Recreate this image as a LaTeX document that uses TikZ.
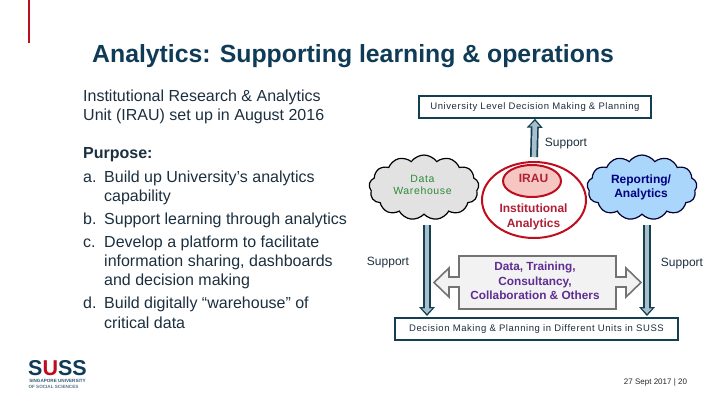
\documentclass[tikz,border=0pt]{standalone}
\usepackage{fontspec}
\setmainfont{Liberation Sans}
\newfontfamily\spacedfont[LetterSpace=6]{Liberation Sans}
\usetikzlibrary{arrows.meta,shapes.geometric,shapes.symbols}
\definecolor{titleblue}{HTML}{0F3B57}
\definecolor{bodyink}{HTML}{1C2F3E}
\definecolor{boxedge}{HTML}{123F52}
\definecolor{steelfill}{HTML}{A9BFCB}
\definecolor{suppred}{HTML}{C00D1E}
\definecolor{palered}{HTML}{F5C6C2}
\definecolor{cloudblue}{HTML}{A9D6FA}
\definecolor{cloudgrey}{HTML}{E2E2E2}
\definecolor{datagreen}{HTML}{2E8B3A}
\definecolor{irauink}{HTML}{B02035}
\definecolor{plum}{HTML}{5F2D91}
\tikzset{
  bodytext/.style={anchor=base west,font=\fontsize{16}{18}\selectfont,text=bodyink,inner sep=0pt},
  supporttext/.style={font=\fontsize{12}{14}\selectfont,text=bodyink,inner sep=0pt},
  levelbox/.style={draw=boxedge,line width=1.5pt,fill=white,inner sep=0pt,font=\spacedfont\fontsize{9.5}{12}\selectfont,text=bodyink},
  puffcloud/.style={cloud,cloud puffs=13,cloud puff arc=110,aspect=1.7,inner sep=0pt,minimum width=110,minimum height=65,line width=1.2pt},
  cloudtext/.style={align=center,inner sep=0pt},
  supportarrow/.style={draw=boxedge,line width=8pt,-{Triangle[length=9pt,width=15.5pt]},
    postaction={draw=steelfill,line width=4.6pt,-{Triangle[length=5.5pt,width=10pt]},shorten >=2.2pt}},
}
\begin{document}
\begin{tikzpicture}[x=1pt,y=-1pt]
  \useasboundingbox (0,0) rectangle (720,405);
  \fill[suppred] (27.8,0) rectangle (30.3,43);
  \node (title) at (92,62) [anchor=base west,inner sep=0pt,font=\bfseries\fontsize{24.8}{28}\selectfont,text=titleblue]{Analytics: Supporting learning \& operations};
  % left column
  \node (unit1) at (83,101) [bodytext]{Institutional Research \& Analytics};
  \node (unit2) at (83,120) [bodytext]{Unit (IRAU) set up in August 2016};
  \node (purpose) at (83,158.5) [bodytext,font=\bfseries\fontsize{16}{18}\selectfont]{Purpose:};
  \foreach \y/\m in {182/a.,224/b.,247/c.,308/d.}
  {
    \node (mark\m) at (83,\y) [bodytext]{\m};
  }
  \foreach \y/\t in {182/Build up University’s analytics,201/capability,224/Support learning through analytics,247/Develop a platform to facilitate,266/{information sharing, dashboards},285/and decision making,308/Build digitally “warehouse” of,328/critical data}
  {
    \node (line\y) at (104,\y) [bodytext]{\t};
  }
  % right side
  \node (unilevel) at (535,107) [levelbox,minimum width=232,minimum height=22]{University Level Decision Making \& Planning};
  \node (units) at (536.5,329) [levelbox,minimum width=283,minimum height=22]{Decision Making \& Planning in Different Units in SUSS};
  \node (warehouse) at (424,187.5) [puffcloud,draw=black,fill=cloudgrey]{};
  \node (warehousetext) at (422.5,185) [cloudtext,text=datagreen,font=\spacedfont\fontsize{10.5}{12}\selectfont]{Data\\Warehouse};
  \node (reporting) at (642,187.5) [puffcloud,draw=black!80!blue,fill=cloudblue]{};
  \node (reportingtext) at (641,187.5) [cloudtext,text=blue!50!black,font=\bfseries\fontsize{12}{14.5}\selectfont]{Reporting/\\Analytics};
  \node (institutional) at (534,200) [ellipse,draw=suppred,line width=2pt,fill=white,minimum width=104,minimum height=76,inner sep=0pt]{};
  \node (iraububble) at (532,181) [ellipse,draw=suppred,line width=2pt,fill=palered,minimum width=58,minimum height=32,inner sep=0pt]{};
  \node (irautext) at (533.5,178.5) [inner sep=0pt,font=\bfseries\fontsize{12}{14}\selectfont,text=irauink]{IRAU};
  \node (institutionaltext) at (533.5,216.5) [align=center,inner sep=0pt,font=\bfseries\fontsize{12}{15}\selectfont,text=irauink]{Institutional\\Analytics};
  \coordinate (warehousefoot) at (427,225);
  \coordinate (warehousetip) at (427,316);
  \coordinate (reportingfoot) at (647,225);
  \coordinate (reportingtip) at (647,316);
  \draw[supportarrow] (warehousefoot)--(warehousetip);
  \draw[supportarrow] (reportingfoot)--(reportingtip);
  \draw[supportarrow] (institutional.north)++(0,-4)--(unilevel.south);
  \node (support1) at (566,143.5) [supporttext]{Support};
  \node (support2) at (388,262.5) [supporttext]{Support};
  \node (support3) at (682,263.5) [supporttext]{Support};
  % data box with its two side arrows
  \draw[draw=black!55,fill=black!5,line width=1.6pt] (459,256)--(616,256)--(616,277)--(626,277)--(626,268)--(641,282.5)--(626,297)--(626,287)--(616,287)--(616,309)--(459,309)--(459,287)--(449,287)--(449,297)--(434,282.5)--(449,268)--(449,277)--(459,277)--cycle;
  \node (datatext) at (535,281) [align=center,inner sep=0pt,font=\bfseries\fontsize{11.8}{14.6}\selectfont,text=plum]{Data, Training,\\Consultancy,\\Collaboration \& Others};
  % footer
  \node (dateline) at (655.5,382) [inner sep=0pt,font=\fontsize{8}{10}\selectfont,text=black!85]{27 Sept 2017 | 20};
  \node (logo) at (57.5,375) [anchor=base,inner sep=0pt,font=\bfseries\fontsize{21.5}{24}\selectfont,text=titleblue]{S\textcolor{suppred}{U}SS};
  \node (logoline1) at (57.5,380.5) [inner sep=0pt,font=\bfseries\fontsize{4.6}{6}\selectfont,text=titleblue!85]{SINGAPORE UNIVERSITY};
  \node (logoline2) at (53.5,387) [inner sep=0pt,font=\bfseries\fontsize{4.6}{6}\selectfont,text=titleblue!70]{OF SOCIAL SCIENCES};
\end{tikzpicture}
\end{document}
